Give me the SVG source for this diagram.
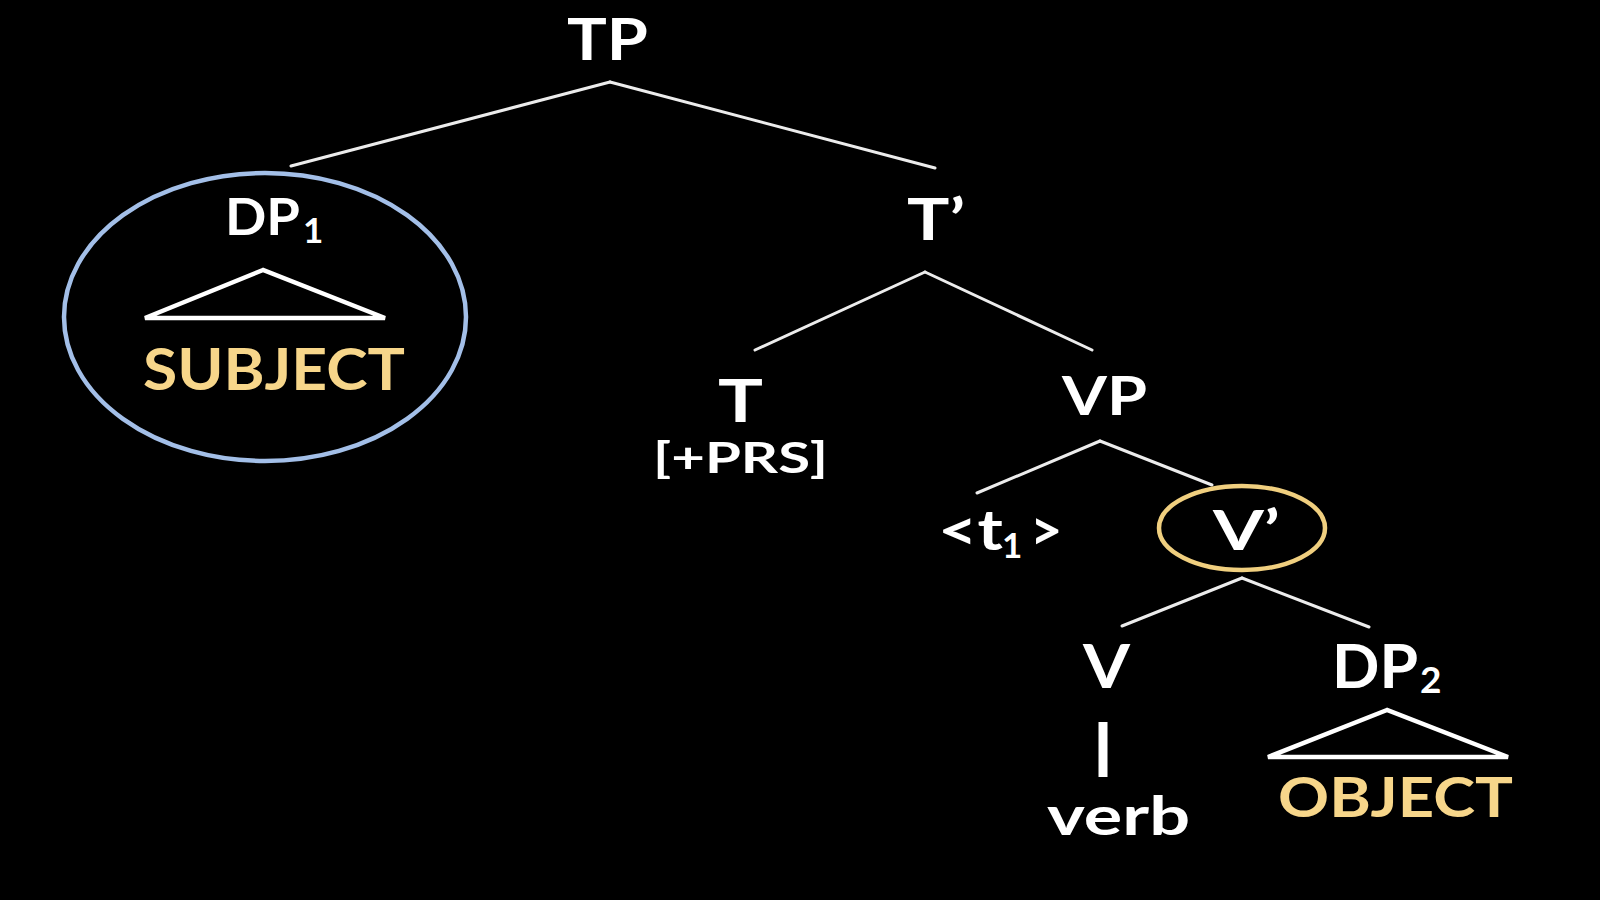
<svg xmlns="http://www.w3.org/2000/svg" width="1600" height="900" viewBox="0 0 1600 900">
<style>
.lbl{font-family:Lato,"Open Sans","Liberation Sans",sans-serif;font-weight:bold;fill:#ffffff}
.gold{fill:#F7D68A}
.edge{stroke:#ECECEC;stroke-width:3;fill:none;stroke-linecap:round}
.tri{stroke:#FFFFFF;stroke-width:4.5;fill:none;stroke-linejoin:miter}
</style>
<rect x="0" y="0" width="1600" height="900" fill="#000000"/>
<g id="connectors">
<line class="edge" x1="610" y1="82" x2="291" y2="166"/>
<line class="edge" x1="610" y1="82" x2="935" y2="168"/>
<line class="edge" x1="925" y1="272" x2="755" y2="350"/>
<line class="edge" x1="925" y1="272" x2="1092" y2="350"/>
<line class="edge" x1="1100" y1="441" x2="977" y2="493"/>
<line class="edge" x1="1100" y1="441" x2="1212" y2="485"/>
<line class="edge" x1="1242" y1="578" x2="1122" y2="626"/>
<line class="edge" x1="1242" y1="578" x2="1369" y2="627"/>
<line x1="1103" y1="722" x2="1103" y2="777" stroke="#FFFFFF" stroke-width="9"/>
</g>
<g id="node-TP">
<text class="lbl" x="567" y="60" font-size="58" textLength="81" lengthAdjust="spacingAndGlyphs">TP</text>
</g>
<g id="node-DP1">
<ellipse cx="265" cy="317" rx="201" ry="144" fill="none" stroke="#A3BFE8" stroke-width="4.5"/>
<text class="lbl" x="225" y="235" font-size="52"><tspan textLength="75" lengthAdjust="spacingAndGlyphs">DP</tspan><tspan x="303" y="243" font-size="35">1</tspan></text>
<polygon class="tri" points="263,270 145,318 385,318"/>
<text class="lbl gold" x="143" y="390" font-size="58" textLength="262" lengthAdjust="spacingAndGlyphs">SUBJECT</text>
</g>
<g id="node-Tbar">
<text class="lbl" x="907" y="240" font-size="58" textLength="58" lengthAdjust="spacingAndGlyphs">T’</text>
</g>
<g id="node-T">
<text class="lbl" x="718" y="422" font-size="60" textLength="45" lengthAdjust="spacingAndGlyphs">T</text>
<text class="lbl" x="653" y="473" font-size="42" textLength="175" lengthAdjust="spacingAndGlyphs">[+PRS]</text>
</g>
<g id="node-VP">
<text class="lbl" x="1062" y="415" font-size="53" textLength="85" lengthAdjust="spacingAndGlyphs">VP</text>
</g>
<g id="node-t1">
<text class="lbl" x="938" y="550" font-size="56"><tspan textLength="65" lengthAdjust="spacingAndGlyphs">&lt;t</tspan><tspan x="1002" y="558" font-size="35">1</tspan><tspan x="1030" y="550">&gt;</tspan></text>
</g>
<g id="node-Vbar">
<ellipse cx="1242" cy="528" rx="83" ry="42" fill="none" stroke="#F0CF7F" stroke-width="4.5"/>
<text class="lbl" x="1213" y="550" font-size="56" textLength="67" lengthAdjust="spacingAndGlyphs">V’</text>
</g>
<g id="node-V">
<text class="lbl" x="1083" y="688" font-size="62" textLength="47" lengthAdjust="spacingAndGlyphs">V</text>
<text class="lbl" x="1047" y="835" font-size="54" textLength="143" lengthAdjust="spacingAndGlyphs">verb</text>
</g>
<g id="node-DP2">
<text class="lbl" x="1332" y="688" font-size="62"><tspan textLength="86" lengthAdjust="spacingAndGlyphs">DP</tspan><tspan x="1420" y="693" font-size="37">2</tspan></text>
<polygon class="tri" points="1387,710 1268,757 1508,757"/>
<text class="lbl gold" x="1278" y="817" font-size="56" textLength="235" lengthAdjust="spacingAndGlyphs">OBJECT</text>
</g>
</svg>
